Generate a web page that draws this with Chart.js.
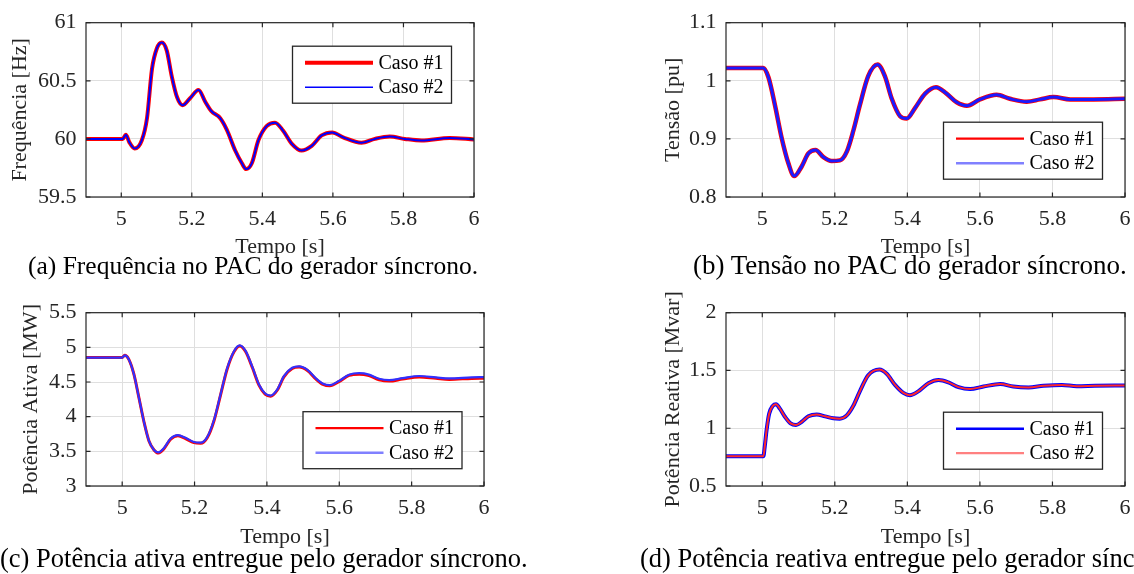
<!DOCTYPE html>
<html><head><meta charset="utf-8">
<script src="https://cdn.jsdelivr.net/npm/chart.js@4.4.1/dist/chart.umd.min.js"></script>
<style>
html,body{margin:0;padding:0;background:#fff;width:1134px;height:574px;overflow:hidden;position:relative}
canvas{position:absolute;display:block}
.cap{position:absolute;font-family:"Liberation Serif","Times New Roman",serif;font-size:26px;color:#000;white-space:nowrap;line-height:30px}
</style></head><body>
<canvas id="ca"></canvas><canvas id="cb"></canvas><canvas id="cc"></canvas><canvas id="cd"></canvas>
<div class="cap" id="capA">(a) Frequência no PAC do gerador síncrono.</div>
<div class="cap" id="capB">(b) Tensão no PAC do gerador síncrono.</div>
<div class="cap" id="capC">(c) Potência ativa entregue pelo gerador síncrono.</div>
<div class="cap" id="capD">(d) Potência reativa entregue pelo gerador síncrono.</div>
<script>
// ---------------- DATA ----------------
const xTicks = [5, 5.2, 5.4, 5.6, 5.8, 6];
const seriesNames = ['Caso #1', 'Caso #2'];

// (a) Frequência [Hz]
const tFreq = [4.9, 5.004, 5.013, 5.023, 5.038, 5.058, 5.073, 5.087, 5.101, 5.115, 5.129, 5.143, 5.158, 5.174, 5.195, 5.219, 5.238, 5.255, 5.28, 5.299, 5.323, 5.342, 5.354, 5.37, 5.389, 5.412, 5.436, 5.459, 5.483, 5.511, 5.54, 5.568, 5.598, 5.629, 5.681, 5.719, 5.761, 5.804, 5.851, 5.931, 6.0];
const freqCaso1 = [60, 60, 60.036, 59.97, 59.917, 59.986, 60.18, 60.6, 60.78, 60.83, 60.76, 60.54, 60.36, 60.29, 60.35, 60.42, 60.32, 60.24, 60.18, 60.08, 59.90, 59.79, 59.74, 59.79, 59.99, 60.11, 60.14, 60.07, 59.96, 59.90, 59.94, 60.03, 60.056, 60.014, 59.967, 60.0, 60.02, 60.0, 59.986, 60.008, 59.995];
const freqCaso2 = [60, 60, 60.036, 59.97, 59.917, 59.986, 60.18, 60.6, 60.78, 60.83, 60.76, 60.54, 60.36, 60.29, 60.35, 60.42, 60.32, 60.24, 60.18, 60.08, 59.90, 59.79, 59.74, 59.79, 59.99, 60.11, 60.14, 60.07, 59.96, 59.90, 59.94, 60.03, 60.056, 60.014, 59.967, 60.0, 60.02, 60.0, 59.986, 60.008, 59.995];
const freqTicks = [59.5, 60, 60.5, 61];

// (b) Tensão [pu]
const tVolt = [4.9, 5.003, 5.017, 5.035, 5.053, 5.072, 5.088, 5.109, 5.127, 5.147, 5.168, 5.191, 5.214, 5.233, 5.251, 5.269, 5.292, 5.318, 5.338, 5.357, 5.38, 5.398, 5.421, 5.449, 5.479, 5.508, 5.536, 5.564, 5.6, 5.646, 5.683, 5.729, 5.766, 5.803, 5.849, 5.913, 6.0];
const voltCaso1 = [1.022, 1.022, 1.006, 0.958, 0.903, 0.858, 0.836, 0.853, 0.875, 0.881, 0.869, 0.862, 0.863, 0.878, 0.914, 0.958, 1.008, 1.028, 1.008, 0.969, 0.939, 0.935, 0.953, 0.978, 0.989, 0.978, 0.963, 0.957, 0.968, 0.976, 0.969, 0.964, 0.968, 0.972, 0.968, 0.968, 0.969];
const voltCaso2 = [1.022, 1.022, 1.006, 0.958, 0.903, 0.858, 0.836, 0.853, 0.875, 0.881, 0.869, 0.862, 0.863, 0.878, 0.914, 0.958, 1.008, 1.028, 1.008, 0.969, 0.939, 0.935, 0.953, 0.978, 0.989, 0.978, 0.963, 0.957, 0.968, 0.976, 0.969, 0.964, 0.968, 0.972, 0.968, 0.968, 0.969];
const voltTicks = [0.8, 0.9, 1, 1.1];

// (c) Potência Ativa [MW]
const tPot = [4.9, 5.0, 5.007, 5.018, 5.032, 5.046, 5.06, 5.074, 5.088, 5.1, 5.115, 5.134, 5.154, 5.175, 5.198, 5.217, 5.235, 5.254, 5.272, 5.29, 5.309, 5.325, 5.341, 5.36, 5.378, 5.395, 5.41, 5.429, 5.447, 5.47, 5.489, 5.512, 5.535, 5.555, 5.574, 5.599, 5.627, 5.655, 5.682, 5.71, 5.738, 5.775, 5.821, 5.867, 5.904, 5.966, 6.0];
const potCaso1 = [4.853, 4.853, 4.885, 4.83, 4.62, 4.28, 3.93, 3.65, 3.52, 3.475, 3.535, 3.675, 3.725, 3.685, 3.625, 3.615, 3.695, 3.945, 4.315, 4.685, 4.935, 5.02, 4.94, 4.705, 4.455, 4.325, 4.295, 4.385, 4.575, 4.695, 4.715, 4.665, 4.545, 4.465, 4.445, 4.505, 4.595, 4.613, 4.593, 4.533, 4.513, 4.543, 4.573, 4.553, 4.538, 4.552, 4.555];
const potCaso2 = [4.853, 4.853, 4.885, 4.83, 4.62, 4.28, 3.93, 3.65, 3.52, 3.485, 3.545, 3.685, 3.735, 3.695, 3.635, 3.625, 3.705, 3.955, 4.325, 4.695, 4.945, 5.03, 4.95, 4.715, 4.465, 4.335, 4.305, 4.395, 4.585, 4.705, 4.725, 4.675, 4.555, 4.475, 4.455, 4.515, 4.605, 4.627, 4.607, 4.547, 4.527, 4.557, 4.587, 4.567, 4.552, 4.568, 4.572];
const potTicks = [3, 3.5, 4, 4.5, 5, 5.5];

// (d) Potência Reativa [Mvar]
const tReat = [4.9, 5.003, 5.007, 5.012, 5.019, 5.029, 5.038, 5.049, 5.063, 5.078, 5.093, 5.109, 5.127, 5.15, 5.173, 5.196, 5.214, 5.233, 5.251, 5.269, 5.292, 5.323, 5.343, 5.366, 5.389, 5.407, 5.43, 5.458, 5.486, 5.513, 5.541, 5.573, 5.61, 5.656, 5.692, 5.734, 5.775, 5.826, 5.867, 5.917, 6.0];
const reatCaso1 = [0.758, 0.758, 0.847, 0.986, 1.125, 1.194, 1.208, 1.167, 1.097, 1.042, 1.028, 1.056, 1.103, 1.119, 1.103, 1.086, 1.083, 1.111, 1.194, 1.319, 1.458, 1.508, 1.472, 1.375, 1.306, 1.286, 1.319, 1.389, 1.417, 1.397, 1.356, 1.339, 1.361, 1.383, 1.361, 1.353, 1.367, 1.375, 1.364, 1.367, 1.37];
const reatCaso2 = [0.758, 0.758, 0.847, 0.986, 1.125, 1.194, 1.208, 1.167, 1.097, 1.042, 1.028, 1.056, 1.103, 1.119, 1.103, 1.086, 1.083, 1.111, 1.194, 1.319, 1.458, 1.508, 1.472, 1.375, 1.306, 1.286, 1.319, 1.389, 1.417, 1.397, 1.356, 1.339, 1.361, 1.383, 1.361, 1.353, 1.367, 1.375, 1.364, 1.367, 1.37];
const reatTicks = [0.5, 1, 1.5, 2];

// ---------------- RENDERING ----------------
const SERIF = '"Liberation Serif","Times New Roman",serif';
const AXIS_COLOR = '#262626';
const FS = 22;

const matlabPlugin = {
  id: 'matlabBox',
  afterDraw(chart, args, opts) {
    const {ctx, chartArea: a, scales: {x, y}} = chart;
    ctx.save();
    ctx.strokeStyle = AXIS_COLOR;
    ctx.lineWidth = 1.2;
    const L = 4.5;
    ctx.beginPath();
    x.ticks.forEach(t => {
      const px = x.getPixelForValue(t.value);
      ctx.moveTo(px, a.bottom); ctx.lineTo(px, a.bottom - L);
      ctx.moveTo(px, a.top); ctx.lineTo(px, a.top + L);
    });
    y.ticks.forEach(t => {
      const py = y.getPixelForValue(t.value);
      ctx.moveTo(a.left, py); ctx.lineTo(a.left + L, py);
      ctx.moveTo(a.right, py); ctx.lineTo(a.right - L, py);
    });
    ctx.stroke();
    ctx.strokeRect(a.left, a.top, a.right - a.left, a.bottom - a.top);
    // legend
    const lg = opts.legend;
    if (lg) {
      const w = 159, h = 57;
      const lx = a.right - lg.right - w, ly = a.top + lg.top;
      ctx.fillStyle = '#fff';
      ctx.fillRect(lx, ly, w, h);
      ctx.strokeStyle = AXIS_COLOR;
      ctx.lineWidth = 1.3;
      ctx.strokeRect(lx, ly, w, h);
      ctx.font = '20px ' + SERIF;
      ctx.textBaseline = 'middle';
      ctx.textAlign = 'left';
      const rows = [16.5, 41];
      chart.data.datasets.forEach((ds, i) => {
        const ry = ly + rows[i];
        ctx.strokeStyle = ds.legendColor;
        ctx.lineWidth = ds.legendWidth;
        ctx.beginPath();
        ctx.moveTo(lx + 12.5, ry); ctx.lineTo(lx + 80.5, ry);
        ctx.stroke();
        ctx.fillStyle = '#000';
        ctx.fillText(ds.label, lx + 86, ry + 1);
      });
    }
    ctx.restore();
  }
};

function pts(t, v) { return t.map((x, i) => ({x: x, y: v[i]})); }
function fmt(v) { return String(+(+v).toFixed(2)); }

function makeChart(id, cfg) {
  const cv = document.getElementById(id);
  cv.width = cfg.w; cv.height = cfg.h;
  cv.style.left = cfg.left + 'px'; cv.style.top = cfg.top + 'px';
  cv.style.width = cfg.w + 'px'; cv.style.height = cfg.h + 'px';
  return new Chart(cv.getContext('2d'), {
    type: 'line',
    data: {
      datasets: cfg.series.map((s, i) => ({
        label: seriesNames[i],
        data: pts(s.t, s.v),
        borderColor: s.color,
        borderWidth: s.width,
        legendColor: s.legendColor,
        legendWidth: s.legendWidth,
        pointRadius: 0,
        fill: false,
        cubicInterpolationMode: 'monotone',
        order: cfg.series.length - i
      }))
    },
    options: {
      responsive: false,
      animation: false,
      devicePixelRatio: 1,
      layout: {padding: {left: 0, right: 15, top: cfg.padTop, bottom: 0}},
      plugins: {legend: {display: false}, tooltip: {enabled: false}, matlabBox: {legend: cfg.legend}},
      scales: {
        x: {
          type: 'linear', min: 4.9, max: 6,
          afterBuildTicks: s => { s.ticks = xTicks.map(v => ({value: v})); },
          afterFit: s => { s.height = 64; },
          grid: {color: '#dfdfdf', lineWidth: 1, drawTicks: false},
          border: {display: false},
          ticks: {font: {family: SERIF, size: FS}, color: AXIS_COLOR, padding: 9.5, callback: v => fmt(v), maxRotation: 0, autoSkip: false},
          title: {display: true, text: 'Tempo [s]', font: {family: SERIF, size: FS}, color: AXIS_COLOR, padding: {top: 0, bottom: cfg.xTitlePad}}
        },
        y: {
          type: 'linear', min: cfg.yTicks[0], max: cfg.yTicks[cfg.yTicks.length - 1],
          afterBuildTicks: s => { s.ticks = cfg.yTicks.map(v => ({value: v})); },
          afterFit: s => { s.width = cfg.yw; },
          grid: {color: '#dfdfdf', lineWidth: 1, drawTicks: false},
          border: {display: false},
          ticks: {font: {family: SERIF, size: FS}, color: AXIS_COLOR, padding: 9.5, callback: v => fmt(v), autoSkip: false},
          title: {display: true, text: cfg.yTitle, font: {family: SERIF, size: FS}, color: AXIS_COLOR, padding: {top: cfg.yTitlePad, bottom: 0}}
        }
      }
    },
    plugins: [matlabPlugin]
  });
}

makeChart('ca', {
  left: 0, top: 0, w: 489, h: 261, yw: 86, padTop: 17, xTitlePad: 1, yTitlePad: 7.5,
  yTicks: freqTicks, yTitle: 'Frequência [Hz]',
  legend: {right: 22.5, top: 23.5},
  series: [
    {t: tFreq, v: freqCaso1, color: '#ff0000', width: 4, legendColor: '#ff0000', legendWidth: 4},
    {t: tFreq, v: freqCaso2, color: '#0000ff', width: 2, legendColor: '#0000ff', legendWidth: 1.6}
  ]
});
makeChart('cb', {
  left: 660, top: 0, w: 480, h: 261, yw: 66, padTop: 17, xTitlePad: 1, yTitlePad: 0,
  yTicks: voltTicks, yTitle: 'Tensão [pu]',
  legend: {right: 22.5, top: 99.5},
  series: [
    {t: tVolt, v: voltCaso1, color: '#ff0000', width: 4.5, legendColor: '#ff0000', legendWidth: 2.2},
    {t: tVolt, v: voltCaso2, color: '#1a1aff', width: 3, legendColor: '#8080ff', legendWidth: 2.5}
  ]
});
makeChart('cc', {
  left: 0, top: 290, w: 499, h: 260, yw: 86, padTop: 16, xTitlePad: 0, yTitlePad: 17.8,
  yTicks: potTicks, yTitle: 'Potência Ativa [MW]',
  legend: {right: 22, top: 99},
  series: [
    {t: tPot, v: potCaso1, color: '#ff0000', width: 3, legendColor: '#ff0000', legendWidth: 2.2},
    {t: tPot, v: potCaso2, color: '#3030ff', width: 2.2, legendColor: '#8080ff', legendWidth: 2.5}
  ]
});
makeChart('cd', {
  left: 660, top: 290, w: 480, h: 260, yw: 66, padTop: 16, xTitlePad: 0, yTitlePad: 0,
  yTicks: reatTicks, yTitle: 'Potência Reativa [Mvar]',
  legend: {right: 22.5, top: 99.5},
  series: [
    {t: tReat, v: reatCaso1, color: '#0000ff', width: 4, legendColor: '#0000ff', legendWidth: 2.5},
    {t: tReat, v: reatCaso2, color: '#ff2a2a', width: 2, legendColor: '#ff8080', legendWidth: 2.2}
  ]
});

// captions: [left, top, font size]
const caps = {capA: [28, 250.5, 25.5], capB: [693, 250, 27], capC: [0, 543, 26.5], capD: [640, 543, 26.5]};
Object.keys(caps).forEach(k => {
  const el = document.getElementById(k);
  el.style.left = caps[k][0] + 'px'; el.style.top = caps[k][1] + 'px';
  el.style.fontSize = caps[k][2] + 'px';
});
</script>
</body></html>
